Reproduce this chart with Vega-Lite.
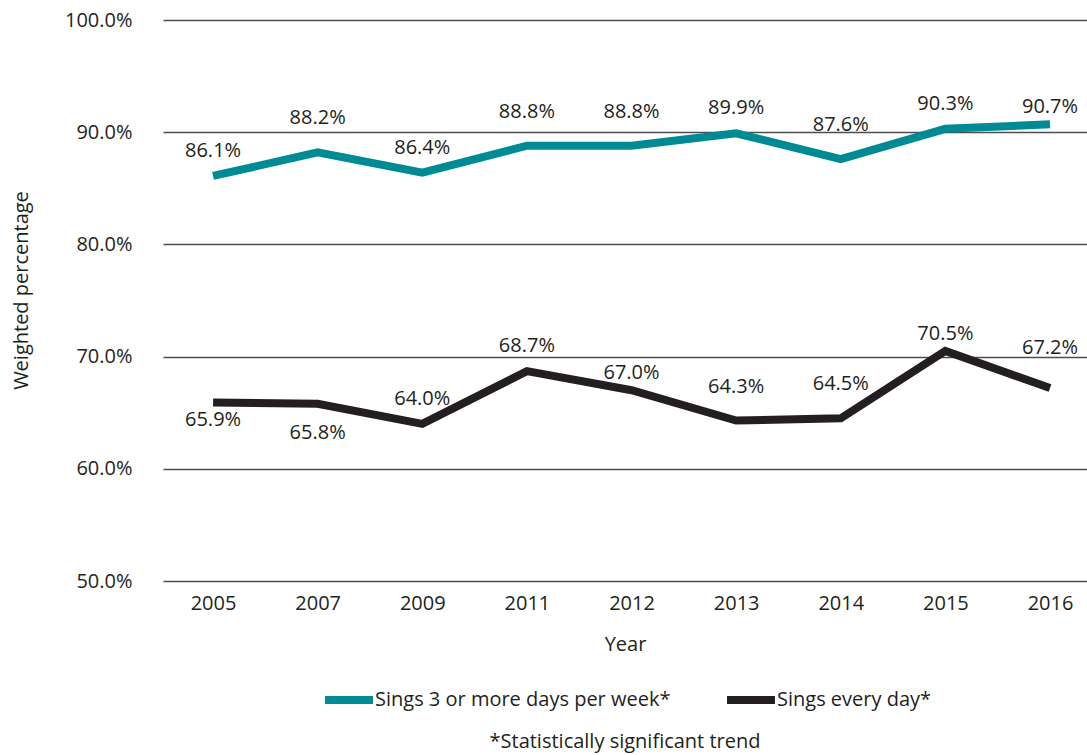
{
  "$schema": "https://vega.github.io/schema/vega-lite/v6.json",
  "autosize": "none",
  "width": 924,
  "height": 561,
  "padding": {"left": 163, "top": 20, "right": 0, "bottom": 174},
  "background": "white",
  "config": {
    "font": "Open Sans",
    "view": {"stroke": null},
    "text": {"font": "Open Sans"}
  },
  "title": {
    "text": "*Statistically significant trend",
    "orient": "bottom",
    "anchor": "middle",
    "font": "Open Sans",
    "fontSize": 20,
    "fontWeight": "normal",
    "color": "#231F20",
    "offset": 16
  },
  "data": {
    "values": [
      {"year": "2005", "series": "Sings 3 or more days per week*", "value": 0.861},
      {"year": "2007", "series": "Sings 3 or more days per week*", "value": 0.882},
      {"year": "2009", "series": "Sings 3 or more days per week*", "value": 0.864},
      {"year": "2011", "series": "Sings 3 or more days per week*", "value": 0.888},
      {"year": "2012", "series": "Sings 3 or more days per week*", "value": 0.888},
      {"year": "2013", "series": "Sings 3 or more days per week*", "value": 0.899},
      {"year": "2014", "series": "Sings 3 or more days per week*", "value": 0.876},
      {"year": "2015", "series": "Sings 3 or more days per week*", "value": 0.903},
      {"year": "2016", "series": "Sings 3 or more days per week*", "value": 0.907},
      {"year": "2005", "series": "Sings every day*", "value": 0.659},
      {"year": "2007", "series": "Sings every day*", "value": 0.658},
      {"year": "2009", "series": "Sings every day*", "value": 0.640},
      {"year": "2011", "series": "Sings every day*", "value": 0.687},
      {"year": "2012", "series": "Sings every day*", "value": 0.670},
      {"year": "2013", "series": "Sings every day*", "value": 0.643},
      {"year": "2014", "series": "Sings every day*", "value": 0.645},
      {"year": "2015", "series": "Sings every day*", "value": 0.705},
      {"year": "2016", "series": "Sings every day*", "value": 0.672}
    ]
  },
  "transform": [
    {"calculate": "(datum.series == 'Sings every day*' ? 'E' : 'W') + datum.year", "as": "key"}
  ],
  "encoding": {
    "x": {
      "field": "year",
      "type": "ordinal",
      "sort": null,
      "scale": {"type": "point", "padding": 0.416, "align": 0.575},
      "axis": {
        "title": "Year",
        "labelAngle": 0,
        "labelFont": "Open Sans",
        "labelFontSize": 20,
        "labelColor": "#231F20",
        "labelPadding": 12,
        "ticks": false,
        "domain": false,
        "grid": false,
        "titleFont": "Open Sans",
        "titleFontSize": 20,
        "titleFontWeight": "normal",
        "titleColor": "#231F20",
        "titlePadding": 21
      }
    },
    "y": {
      "field": "value",
      "type": "quantitative",
      "scale": {"domain": [0.5, 1.0], "nice": false, "zero": false},
      "axis": {
        "title": "Weighted percentage",
        "values": [0.5, 0.6, 0.7, 0.8, 0.9, 1.0],
        "format": ".1%",
        "labelFont": "Open Sans",
        "labelFontSize": 20,
        "labelColor": "#231F20",
        "labelPadding": 31,
        "ticks": false,
        "domain": false,
        "grid": true,
        "gridColor": "#4D4D4D",
        "gridWidth": 1.3,
        "titleFont": "Open Sans",
        "titleFontSize": 20,
        "titleFontWeight": "normal",
        "titleColor": "#231F20",
        "titlePadding": 33,
        "titleY": 270
      }
    }
  },
  "layer": [
    {
      "mark": {"type": "line", "strokeWidth": 8, "strokeCap": "butt", "strokeJoin": "miter"},
      "encoding": {
        "color": {
          "field": "series",
          "type": "nominal",
          "scale": {"domain": ["Sings 3 or more days per week*", "Sings every day*"], "range": ["#008A93", "#231F20"]},
          "legend": {
            "title": null,
            "orient": "none",
            "direction": "horizontal",
            "legendX": 158,
            "legendY": 652,
            "symbolType": "stroke",
            "symbolSize": 2300,
            "symbolStrokeWidth": 8,
            "labelFont": "Open Sans",
            "labelFontSize": 20,
            "labelColor": "#231F20",
            "labelOffset": -2,
            "labelLimit": 500,
            "columnPadding": 40
          }
        }
      }
    },
    {
      "transform": [{"filter": "indexof(['W2016','E2012','E2015'], datum.key) >= 0"}],
      "mark": {"type": "text", "dy": -17, "fontSize": 20, "font": "Open Sans", "color": "#231F20"},
      "encoding": {"text": {"field": "value", "type": "quantitative", "format": ".1%"}}
    },
    {
      "transform": [{"filter": "indexof(['W2005','W2009','W2013','W2015','E2009','E2011'], datum.key) >= 0"}],
      "mark": {"type": "text", "dy": -25, "fontSize": 20, "font": "Open Sans", "color": "#231F20"},
      "encoding": {"text": {"field": "value", "type": "quantitative", "format": ".1%"}}
    },
    {
      "transform": [{"filter": "indexof(['W2007','W2011','W2012','W2014','E2013','E2014'], datum.key) >= 0"}],
      "mark": {"type": "text", "dy": -34, "fontSize": 20, "font": "Open Sans", "color": "#231F20"},
      "encoding": {"text": {"field": "value", "type": "quantitative", "format": ".1%"}}
    },
    {
      "transform": [{"filter": "datum.key == 'E2016'"}],
      "mark": {"type": "text", "dy": -40, "fontSize": 20, "font": "Open Sans", "color": "#231F20"},
      "encoding": {"text": {"field": "value", "type": "quantitative", "format": ".1%"}}
    },
    {
      "transform": [{"filter": "datum.key == 'E2005'"}],
      "mark": {"type": "text", "dy": 17, "fontSize": 20, "font": "Open Sans", "color": "#231F20"},
      "encoding": {"text": {"field": "value", "type": "quantitative", "format": ".1%"}}
    },
    {
      "transform": [{"filter": "datum.key == 'E2007'"}],
      "mark": {"type": "text", "dy": 29, "fontSize": 20, "font": "Open Sans", "color": "#231F20"},
      "encoding": {"text": {"field": "value", "type": "quantitative", "format": ".1%"}}
    }
  ]
}
